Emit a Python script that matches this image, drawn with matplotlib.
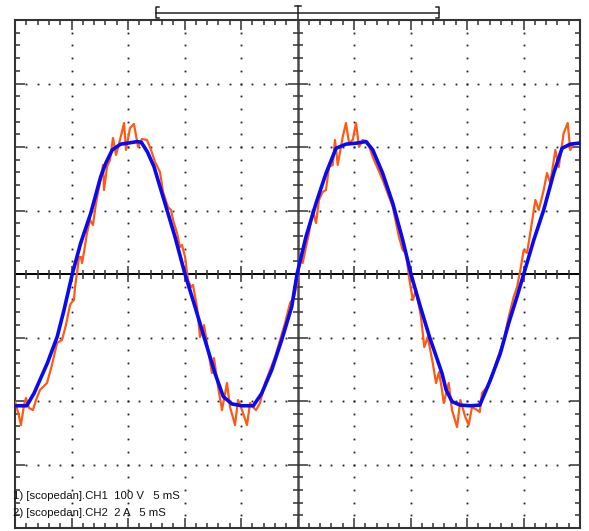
import numpy as np
import matplotlib
matplotlib.use("Agg")
import matplotlib.pyplot as plt
from matplotlib.collections import LineCollection
from matplotlib.transforms import blended_transform_factory

# ---- scope settings -------------------------------------------------------
ms_per_div = 5
volts_per_div = 100
amps_per_div = 2
n_xdiv = 10
n_ydiv = 8

ch_labels = [
    "1) [scopedan].CH1  100 V   5 mS",
    "2) [scopedan].CH2  2 A   5 mS",
]

# ---- CH1: voltage (ms, V) -------------------------------------------------
ch1_t = [0.0, 0.27, 0.53, 0.80, 0.97, 1.24, 1.59, 1.86, 2.21, 2.83, 3.27, 3.72,
         4.16, 4.51, 4.87, 5.04, 5.22, 5.31, 5.49, 5.66, 5.84, 5.93, 6.11, 6.37,
         6.64, 6.90, 7.17, 7.43, 7.79, 7.88, 8.14, 8.41, 8.67, 8.94, 9.29, 9.65,
         9.82, 10.18, 10.53, 10.89, 11.24, 11.68, 12.04, 12.39, 12.83, 13.10,
         13.54, 13.81, 13.98, 14.34, 14.60, 14.78, 15.05, 15.31, 15.58, 15.75,
         16.11, 16.37, 16.73, 17.08, 17.43, 17.61, 17.97, 18.32, 18.76, 19.03,
         19.47, 19.74, 20.09, 20.53, 20.80, 21.06, 21.33, 21.68, 22.13, 23.01,
         23.90, 24.34, 24.69, 24.96, 25.22, 25.46, 25.75, 26.02, 26.35, 26.64,
         26.90, 27.23, 27.52, 27.79, 28.12, 28.32, 28.56, 29.00, 29.29, 29.56,
         29.89, 30.18, 30.44, 30.77, 31.21, 31.66, 32.54, 33.43, 33.98, 34.31,
         34.60, 34.87, 35.20, 35.49, 35.93, 36.22, 36.52, 36.97, 37.26, 37.52,
         37.79, 37.94, 38.38, 38.67, 39.12, 39.41, 39.85, 40.15, 40.44, 40.89,
         41.13, 41.33, 41.77, 42.36, 43.25, 43.69, 44.13, 44.43, 44.72, 45.02,
         45.31, 45.60, 46.05, 46.35, 46.79, 47.08, 47.37, 47.82, 48.12, 48.56,
         48.91, 49.14, 49.44, 50.0]
ch1_v = [-201.6, -217.4, -237.8, -206.3, -195.3, -211.1, -214.2, -198.5, -182.7,
         -171.7, -143.3, -108.7, -104.0, -80.3, -48.8, -44.1, -41.0, -20.5, 1.6,
         26.8, 26.8, 17.3, 34.7, 64.6, 85.1, 77.2, 111.8, 135.5, 171.7, 132.3,
         168.5, 179.6, 214.2, 187.4, 211.1, 237.8, 195.3, 230.0, 236.3, 200.0,
         212.6, 211.1, 195.3, 176.4, 160.7, 129.2, 105.5, 100.8, 85.1, 64.6, 42.5,
         45.7, 26.8, -9.5, -20.5, -17.3, -52.0, -99.2, -80.3, -119.7, -155.9,
         -132.3, -178.0, -214.2, -171.7, -209.5, -237.8, -198.5, -214.2, -237.8,
         -203.2, -209.5, -214.2, -203.2, -171.7, -130.7, -77.2, -45.7, -36.2,
         -14.2, 26.8, 17.3, 42.5, 64.6, 100.8, 80.3, 116.6, 129.2, 132.3, 168.5,
         171.7, 211.1, 171.7, 215.8, 237.8, 206.3, 211.1, 237.8, 200.0, 211.1,
         207.9, 184.3, 148.1, 105.5, 58.3, 37.8, 33.1, -4.7, -41.0, -25.2, -67.7,
         -115.0, -99.2, -140.2, -171.7, -154.4, -182.7, -203.2, -171.7, -214.2,
         -241.0, -198.5, -225.2, -237.8, -209.5, -214.2, -217.4, -187.4, -178.0,
         -151.2, -104.0, -67.7, -36.2, -20.5, 6.3, 37.8, 33.1, 64.6, 116.6, 100.8,
         132.3, 159.1, 143.3, 195.3, 168.5, 222.1, 237.8, 195.3, 206.3, 206.3]

# ---- CH2: current (ms, A) -------------------------------------------------
ch2_t = [0.0, 1.04, 1.68, 2.86, 3.74, 4.34, 5.07, 5.81, 6.70, 7.58, 8.03, 8.61,
         9.35, 9.94, 10.82, 11.18, 11.71, 12.30, 12.83, 13.27, 14.16, 15.04,
         15.93, 16.81, 17.70, 18.43, 19.18, 20.06, 21.09, 21.83, 22.72, 23.60,
         24.49, 24.96, 25.75, 26.64, 27.52, 28.41, 29.29, 30.18, 31.06, 31.66,
         32.54, 33.43, 34.31, 35.04, 35.78, 36.67, 37.79, 38.15, 38.68, 39.41,
         40.30, 41.13, 42.07, 42.95, 43.69, 44.43, 45.02, 45.91, 46.79, 47.67,
         48.41, 49.14, 49.89]
ch2_a = [-4.15, -4.15, -3.76, -2.81, -1.97, -1.13, 0.0, 0.97, 1.91, 3.06, 3.49,
         3.91, 4.09, 4.12, 4.17, 4.15, 3.85, 3.38, 2.75, 2.23, 1.17, 0.0, -1.03,
         -2.08, -3.13, -3.86, -4.09, -4.15, -4.15, -3.76, -3.02, -2.08, -1.03, 0.0,
         1.17, 2.23, 3.17, 3.96, 4.09, 4.12, 4.17, 3.91, 3.17, 2.23, 1.07, 0.0,
         -0.92, -1.97, -3.13, -3.65, -4.02, -4.13, -4.15, -4.13, -3.34, -2.50,
         -1.55, -0.71, 0.0, 1.07, 2.02, 3.17, 3.96, 4.09, 4.12]

# ---- figure ---------------------------------------------------------------
W, H = 589, 531
fig = plt.figure(figsize=(W / 100, H / 100), dpi=100)
left, right, top, bottom = 15, 580, 20, 528
ax = fig.add_axes([left / W, (H - bottom) / H, (right - left) / W, (bottom - top) / H])

t_max = ms_per_div * n_xdiv
ax.set_xlim(0, t_max)
ax.set_ylim(-n_ydiv / 2, n_ydiv / 2)

frame_col = "#333333"
for sp in ax.spines.values():
    sp.set_color(frame_col)
    sp.set_linewidth(1.5)

ax.set_xticks(np.arange(0, t_max + 0.01, ms_per_div))
ax.set_xticks(np.arange(0, t_max + 0.01, ms_per_div / 5), minor=True)
ax.set_yticks(np.arange(-n_ydiv / 2, n_ydiv / 2 + 0.01, 1))
ax.set_yticks(np.arange(-n_ydiv / 2, n_ydiv / 2 + 0.01, 0.2), minor=True)
ax.tick_params(which="both", direction="in", top=True, right=True,
               labelbottom=False, labelleft=False, color=frame_col, width=1.1)
ax.tick_params(which="major", length=7)
ax.tick_params(which="minor", length=3.6)

# dotted graticule
dot_kw = dict(ls="none", marker="s", ms=1.3, color="#222222", mew=0)
ydots = np.arange(-n_ydiv / 2 + 0.2, n_ydiv / 2 - 0.1, 0.2)
for xg in np.arange(ms_per_div, t_max, ms_per_div):
    if abs(xg - t_max / 2) > 1e-6:
        ax.plot(np.full_like(ydots, xg), ydots, **dot_kw)
xdots = np.arange(1, t_max, 1.0)
for yg in np.arange(-n_ydiv / 2 + 1, n_ydiv / 2, 1):
    if yg != 0:
        ax.plot(xdots, np.full_like(xdots, yg), **dot_kw)

# centre cross with ticks
ax.axhline(0, color="black", lw=1.4, zorder=2)
ax.axvline(t_max / 2, color="#4a4a4a", lw=1.8, zorder=2)
px_x = ms_per_div / ((right - left) / n_xdiv)
px_y = 1.0 / ((bottom - top) / n_ydiv)
segs = []
for xt in np.arange(1, t_max, 1.0):
    h = (8 if xt % ms_per_div == 0 else 4.5) * px_y
    segs.append([(xt, -h), (xt, h)])
for yt in np.arange(-n_ydiv / 2 + 0.2, n_ydiv / 2 - 0.1, 0.2):
    yt = round(yt, 2)
    if abs(yt) < 1e-6:
        continue
    w = (10 if abs(yt - round(yt)) < 1e-6 else 5) * px_x
    segs.append([(t_max / 2 - w, yt), (t_max / 2 + w, yt)])
ax.add_collection(LineCollection(segs, colors="#333333", linewidths=1.1, zorder=2))

# traces
ax.plot(ch1_t, np.array(ch1_v) / volts_per_div, color="#ff5a12", lw=1.6,
        solid_joinstyle="round", zorder=3)
ax.plot(ch2_t, np.array(ch2_a) / amps_per_div, color="#0a0af0", lw=2.6,
        solid_joinstyle="round", zorder=4)

# memory-window bracket above the grid
tr = blended_transform_factory(ax.transData, fig.transFigure)
def fy(py):
    return 1 - py / H
bk = dict(color="#222222", lw=1.1, transform=tr, clip_on=False)
t0, t1, tc = 12.5, 37.5, 25.0
s = 3 * px_x
ax.plot([t0, t1], [fy(12.7), fy(12.7)], **bk)
ax.plot([t0 + s, t0, t0, t0 + s], [fy(7.3), fy(7.3), fy(17.5), fy(17.5)], **bk)
ax.plot([t1 - s, t1, t1, t1 - s], [fy(7.3), fy(7.3), fy(17.5), fy(17.5)], **bk)
ax.plot([tc - s, tc + s], [fy(5.7), fy(5.7)], **bk)
ax.plot([tc, tc], [fy(5.7), fy(20)], **bk)

# channel captions
for lab, base in zip(ch_labels, [499, 516]):
    fig.text(13 / W, 1 - base / H, lab, fontsize=8.2, family="Liberation Sans",
             va="baseline", ha="left", color="#111111")

fig.savefig("out.png", dpi=100)
